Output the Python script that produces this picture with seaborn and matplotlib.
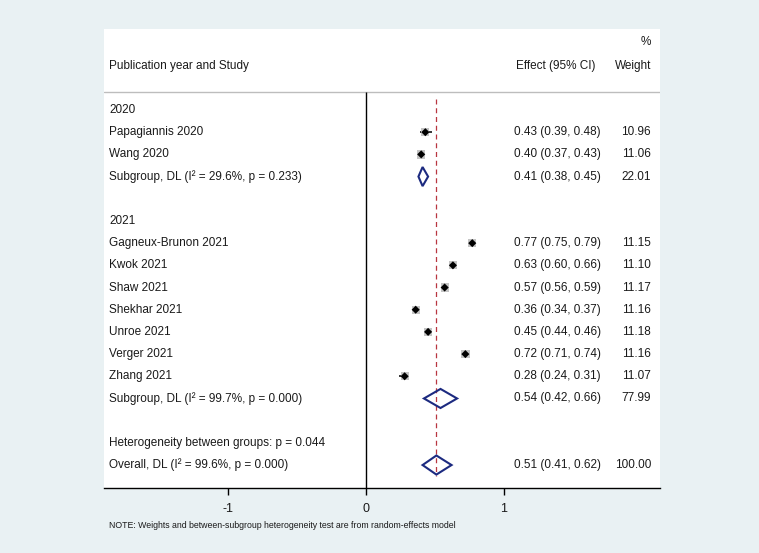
import matplotlib
matplotlib.use("Agg")
import matplotlib.pyplot as plt
from matplotlib.patches import Polygon
import seaborn as sns
import pandas as pd
import numpy as np

# ---------------- data ----------------
group_2020 = "2020"
group_2021 = "2021"
study_labels = ["Papagiannis 2020", "Wang 2020",
                "Gagneux-Brunon 2021", "Kwok 2021", "Shaw 2021", "Shekhar 2021",
                "Unroe 2021", "Verger 2021", "Zhang 2021"]
study_est = [0.43, 0.40, 0.77, 0.63, 0.57, 0.36, 0.45, 0.72, 0.28]
study_lo = [0.39, 0.37, 0.75, 0.60, 0.56, 0.34, 0.44, 0.71, 0.24]
study_hi = [0.48, 0.43, 0.79, 0.66, 0.59, 0.37, 0.46, 0.74, 0.31]
study_wt = [10.96, 11.06, 11.15, 11.10, 11.17, 11.16, 11.18, 11.16, 11.07]
study_rows = [1, 2, 6, 7, 8, 9, 10, 11, 12]

pooled_labels = ["Subgroup, DL (I\u00b2 = 29.6%, p = 0.233)",
                 "Subgroup, DL (I\u00b2 = 99.7%, p = 0.000)",
                 "Overall, DL (I\u00b2 = 99.6%, p = 0.000)"]
pooled_est = [0.41, 0.54, 0.51]
pooled_lo = [0.38, 0.42, 0.41]
pooled_hi = [0.45, 0.66, 0.62]
pooled_wt = [22.01, 77.99, 100.00]
pooled_rows = [3, 13, 16]

header_rows = [0, 5, 15]
header_labels = [group_2020, group_2021, "Heterogeneity between groups: p = 0.044"]

xticks = [-1, 0, 1]
xtick_labels = ["-1", "0", "1"]
overall_effect = 0.51
note = "NOTE: Weights and between-subgroup heterogeneity test are from random-effects model"

# ---------------- style ----------------
sns.set_theme(style="white")
plt.rcParams["font.family"] = ["Liberation Sans", "DejaVu Sans"]

BG = "#e9f1f3"
NAVY = "#1c2a80"
RED = "#b83640"
FS = 8.5
TXT = "#1a1a1a"

W, H = 759, 553
fig = plt.figure(figsize=(W / 100, H / 100), dpi=100, facecolor=BG)
left_px, right_px, top_px, bot_px = 104, 660, 29, 488
ax = fig.add_axes([left_px / W, 1 - bot_px / H, (right_px - left_px) / W, (bot_px - top_px) / H])
ax.set_facecolor("white")

zero_px, unit_px = 366, 138
row0_px, row_px = 110, 22.19
xmin = (left_px - zero_px) / unit_px
xmax = (right_px - zero_px) / unit_px
ytop = (top_px - row0_px) / row_px
ybot = (bot_px - row0_px) / row_px
ax.set_xlim(xmin, xmax)
ax.set_ylim(ybot, ytop)

def px_to_x(p):
    return (p - zero_px) / unit_px

df = pd.DataFrame({"label": study_labels, "est": study_est, "lo": study_lo,
                   "hi": study_hi, "wt": study_wt, "row": study_rows})

# CI lines
ax.hlines(df["row"], df["lo"], df["hi"], color="black", lw=1.1, zorder=2)
# weight boxes
sns.scatterplot(data=df, x="est", y="row", marker="s", s=df["wt"] * 3.2,
                color="#c4c4c4", edgecolor="none", ax=ax, zorder=3, legend=False)
# point markers
sns.scatterplot(data=df, x="est", y="row", marker="D", s=17,
                color="black", edgecolor="none", ax=ax, zorder=4, legend=False)

# diamonds
hh = 0.43
for e, l, h, r in zip(pooled_est, pooled_lo, pooled_hi, pooled_rows):
    poly = Polygon([(l, r), (e, r - hh), (h, r), (e, r + hh)], closed=True,
                   facecolor="none", edgecolor=NAVY, lw=1.5, zorder=5)
    ax.add_patch(poly)

# reference lines
header_line_row = (92 - row0_px) / row_px
ax.axhline(header_line_row, color="#bdbdbd", lw=1.0, zorder=1)
ax.vlines(0, header_line_row, ybot, color="black", lw=1.0, zorder=1)
ax.vlines(overall_effect, -0.5, 16.5, color=RED, lw=0.9,
          linestyles=(0, (4, 3)), zorder=4)

# texts
lab_x = px_to_x(109)
eff_x = px_to_x(601)
effh_x = px_to_x(595)
wt_x = px_to_x(651)

def t(x, y, s, ha="left"):
    ax.text(x, y, s, fontsize=FS, va="center", ha=ha, color=TXT)

t(lab_x, -2, "Publication year and Study")
t(effh_x, -2, "Effect (95% CI)", "right")
t(wt_x, -2, "Weight", "right")
t(wt_x, -3.08, "%", "right")

for lab, r in zip(header_labels, header_rows):
    t(lab_x, r, lab)

for lab, e, l, h, w, r in zip(study_labels, study_est, study_lo, study_hi, study_wt, study_rows):
    t(lab_x, r, lab)
    t(eff_x, r, f"{e:.2f} ({l:.2f}, {h:.2f})", "right")
    t(wt_x, r, f"{w:.2f}", "right")

for lab, e, l, h, w, r in zip(pooled_labels, pooled_est, pooled_lo, pooled_hi, pooled_wt, pooled_rows):
    t(lab_x, r, lab)
    t(eff_x, r, f"{e:.2f} ({l:.2f}, {h:.2f})", "right")
    t(wt_x, r, f"{w:.2f}", "right")

# axes styling
for s in ["top", "left", "right"]:
    ax.spines[s].set_visible(False)
ax.spines["bottom"].set_color("black")
ax.spines["bottom"].set_linewidth(1.0)
ax.set_xticks(xticks)
ax.set_xticklabels(xtick_labels, fontsize=FS + 0.5, color=TXT)
ax.set_yticks([])
ax.tick_params(axis="x", direction="out", length=5, width=1, color="black", pad=6,
               bottom=True)
ax.set_xlabel("")
ax.set_ylabel("")

fig.text(109 / W, 1 - 525 / H, note, fontsize=6.3, ha="left", va="center", color=TXT)

fig.savefig("out.png", dpi=100, facecolor=BG)
